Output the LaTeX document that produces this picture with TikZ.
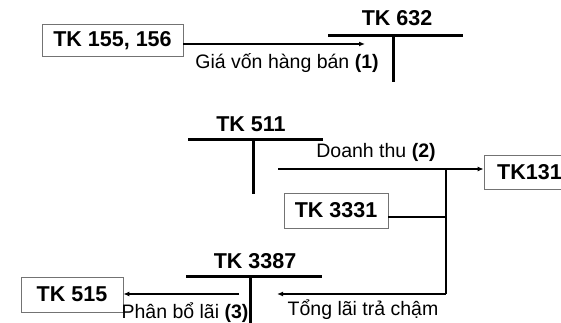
\documentclass[tikz,border=0pt]{standalone}
\usepackage{fontspec}
\setmainfont{Liberation Sans}
\usetikzlibrary{arrows.meta}
\begin{document}
\begin{tikzpicture}[x=1pt,y=-1pt,
  acct/.style={draw=black!55,line width=0.7pt,inner sep=0pt,
    font=\fontsize{21.5}{25}\selectfont\bfseries},
  ttitle/.style={inner sep=0pt,font=\fontsize{21.5}{25}\selectfont\bfseries},
  tline/.style={line width=3pt},
  lbl/.style={inner sep=0pt,font=\fontsize{19.5}{23}\selectfont},
  flow/.style={line width=1.5pt,-{Latex[length=6pt,width=5pt]}},
  joint/.style={line width=2.4pt}]
\useasboundingbox (0,0) rectangle (561,323);

% account boxes
\node[acct,minimum width=141pt,minimum height=32pt] (tk155) at (112.5,40.5) {TK 155, 156};
\node[acct,minimum width=91pt,minimum height=34pt] (tk131) at (529.5,172) {TK131};
\node[acct,minimum width=104pt,minimum height=35pt] (tk3331) at (336,210.5) {TK 3331};
\node[acct,minimum width=102pt,minimum height=35pt] (tk515) at (72,294.5) {TK 515};

% T accounts
\node[ttitle] (t632) at (397,18) {TK 632};
\draw[tline] (328,36) -- (463,36);
\draw[tline] (393,36) -- (393,82);

\node[ttitle] (t511) at (251,124) {TK 511};
\draw[tline] (188,140) -- (323,140);
\draw[tline] (253,140) -- (253,194);

\node[ttitle] (t3387) at (255,261) {TK 3387};
\draw[tline] (186,276) -- (322,276);
\draw[tline] (250,276) -- (250,323);

% free ends of the flows
\coordinate (a1e) at (365,44);
\coordinate (dt) at (278,169);
\coordinate (j1) at (446,169);
\coordinate (j2) at (446,217);
\coordinate (jb) at (446,294);
\coordinate (tl) at (277,294);
\coordinate (pb) at (239,294);

% (1) cost of goods sold
\draw[flow] (tk155.east |- a1e) -- (a1e);
\node[lbl] (l1) at (287,63) {Giá vốn hàng bán \textbf{(1)}};

% (2) revenue
\draw[flow] (dt) -- (dt -| tk131.west);
\node[lbl] (l2) at (376,152) {Doanh thu \textbf{(2)}};

% VAT and deferred interest
\draw[joint] (tk3331.east |- j2) -- (j2);
\draw[joint] (j1) -- (jb);
\draw[flow,line width=2.4pt] (jb) -- (tl);
\node[lbl] (l4) at (363,310) {Tổng lãi trả chậm};

% (3) interest allocation
\draw[flow] (pb) -- (pb -| tk515.east);
\node[lbl] (l3) at (185,313) {Phân bổ lãi \textbf{(3)}};
\end{tikzpicture}
\end{document}
